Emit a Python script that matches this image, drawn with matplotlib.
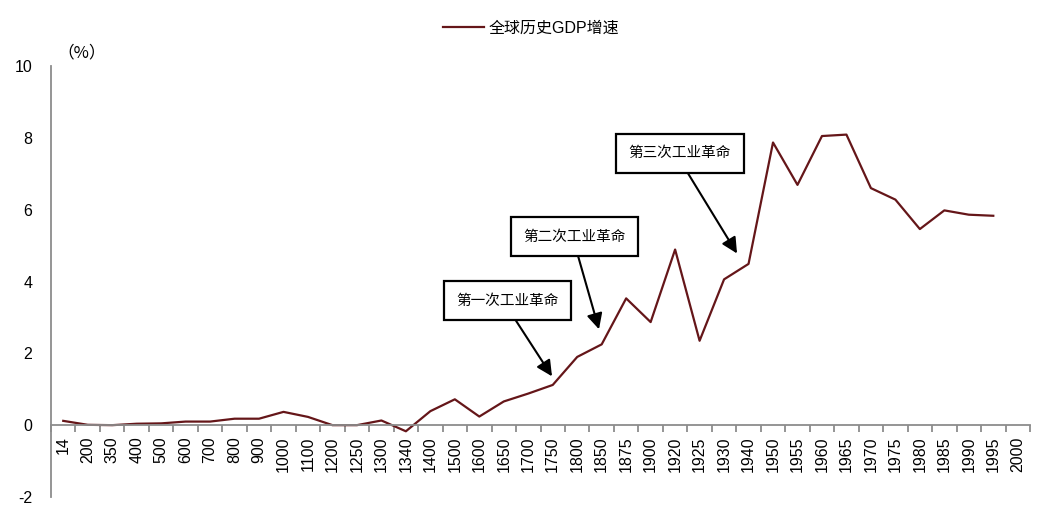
import matplotlib
matplotlib.use("Agg")
import matplotlib.pyplot as plt
import numpy as np

plt.rcParams['font.family'] = ['Liberation Sans', 'Noto Sans CJK SC', 'DejaVu Sans']
plt.rcParams['axes.unicode_minus'] = False

years = ["14", "200", "350", "400", "500", "600", "700", "800", "900", "1000",
         "1100", "1200", "1250", "1300", "1340", "1400", "1500", "1600", "1650", "1700",
         "1750", "1800", "1850", "1875", "1900", "1920", "1925", "1930", "1940", "1950",
         "1955", "1960", "1965", "1970", "1975", "1980", "1985", "1990", "1995", "2000"]
gdp_growth = [0.12, 0.01, 0.0, 0.04, 0.05, 0.10, 0.10, 0.18, 0.18, 0.37,
              0.23, 0.0, 0.0, 0.13, -0.17, 0.39, 0.72, 0.24, 0.66, 0.88,
              1.12, 1.90, 2.25, 3.53, 2.87, 4.89, 2.35, 4.06, 4.49, 7.87,
              6.69, 8.05, 8.09, 6.60, 6.28, 5.46, 5.98, 5.86, 5.83, np.nan]
series_name = "全球历史GDP增速"
annotations = ["第一次工业革命", "第二次工业革命", "第三次工业革命"]

W, H = 1054, 521
fig = plt.figure(figsize=(W / 100, H / 100), dpi=100)
ax = fig.add_axes([51 / W, (H - 497) / H, (1030 - 51) / W, (497 - 66) / H])

x = np.arange(len(years))
line, = ax.plot(x, gdp_growth, color='#651619', lw=1.6, label=series_name)

ax.set_xlim(-0.5, len(years) - 0.5)
ax.set_ylim(-2, 10)
ax.set_yticks(np.arange(-2, 11, 2))
ax.tick_params(axis='y', length=0, pad=13.5, labelsize=11.5)

ax.spines['top'].set_visible(False)
ax.spines['right'].set_visible(False)
ax.spines['left'].set_color('#8c8c8c')
ax.spines['left'].set_linewidth(1.3)
ax.spines['bottom'].set_position(('data', 0))
ax.spines['bottom'].set_color('#8c8c8c')
ax.spines['bottom'].set_linewidth(1.3)

ax.set_xticks(x)
ax.set_xticklabels(years, rotation=90, fontsize=11.5)
ax.set_xticks(np.arange(-0.5, len(years), 1), minor=True)
ax.tick_params(axis='x', which='major', length=0, pad=8)
ax.tick_params(axis='x', which='minor', length=5, width=1.3, color='#8c8c8c', direction='out')

# annotations (text box center, arrow tip in data coords)
ann_pos = [((18.15, 3.47), (19.97, 1.36)),
           ((20.89, 5.25), (21.89, 2.67)),
           ((25.2, 7.57), (27.53, 4.78))]
for label, (txt, tip) in zip(annotations, ann_pos):
    ax.annotate(label, xy=tip, xytext=txt, ha='center', va='center', fontsize=10.5,
                bbox=dict(boxstyle='square,pad=0.85', fc='white', ec='black', lw=1.6),
                arrowprops=dict(arrowstyle='-|>,head_length=0.9,head_width=0.45', color='black',
                                lw=1.5, relpos=(0.5, 0.0), shrinkA=0, shrinkB=0))

fig.text(57 / W, 1 - 53 / H, "（%）", fontsize=12, va='center', ha='left',
         family=['Noto Sans CJK SC', 'DejaVu Sans'])

fig.legend(handles=[line], loc='center', bbox_to_anchor=(531 / W, 1 - 28 / H), frameon=False,
           handlelength=2.6, fontsize=11.5, handletextpad=0.3)

fig.savefig("out.png", dpi=100, facecolor='white')
